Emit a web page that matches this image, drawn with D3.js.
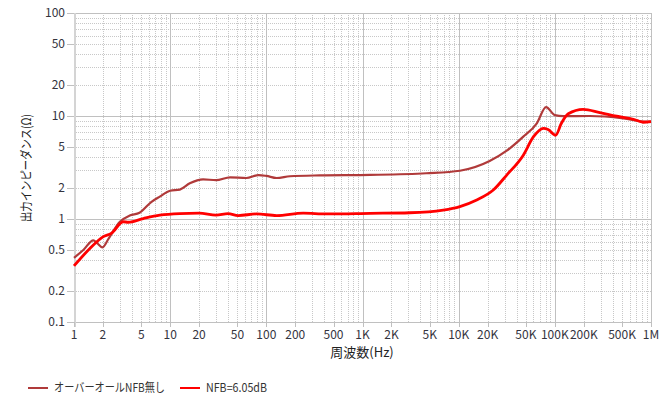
<!DOCTYPE html>
<html>
<head>
<meta charset="utf-8">
<script src="https://cdn.jsdelivr.net/npm/d3@7/dist/d3.min.js"></script>
<style>
  html, body { margin: 0; padding: 0; background: #fff; }
  svg { display: block; font-family: "Noto Sans CJK JP", "Noto Sans", sans-serif; }
</style>
</head>
<body>
<svg id="chart" width="668" height="398"></svg>
<script>
// Output impedance vs. frequency
const seriesNames = ["オーバーオールNFB無し", "NFB=6.05dB"];

const freqNoNfb = [1, 1.25, 1.59, 1.75, 1.97, 2.3, 3.0, 3.8, 4.8, 6.4, 7.8, 10, 12.6, 16, 22, 30, 42, 62, 83, 100, 128, 176, 360, 1200, 4600, 10300, 21000, 31600, 47000, 65000, 81000, 100000, 122000, 230000, 515000, 900000, 1000000];
const zNoNfb    = [0.42, 0.5, 0.62, 0.58, 0.53, 0.65, 0.94, 1.08, 1.15, 1.47, 1.65, 1.88, 1.93, 2.22, 2.43, 2.38, 2.54, 2.5, 2.67, 2.62, 2.5, 2.6, 2.65, 2.68, 2.78, 2.94, 3.65, 4.6, 6.3, 8.5, 12.2, 10.2, 9.95, 10, 9.5, 8.8, 8.8];

const freqNfb = [1, 1.47, 2.0, 2.46, 3.26, 3.67, 5.26, 7.8, 12.6, 20, 30, 40, 51, 79, 128, 242, 424, 1200, 3100, 6900, 10300, 15400, 22900, 31600, 47000, 60000, 76000, 85000, 102000, 117000, 138000, 197000, 294000, 440000, 655000, 832000, 1000000];
const zNfb    = [0.35, 0.52, 0.67, 0.73, 0.94, 0.93, 1.01, 1.09, 1.13, 1.14, 1.09, 1.13, 1.08, 1.12, 1.08, 1.14, 1.12, 1.135, 1.15, 1.22, 1.32, 1.53, 1.91, 2.67, 4.17, 6.3, 7.6, 7.4, 6.5, 8.5, 10.5, 11.6, 10.8, 9.95, 9.3, 8.7, 8.8];

const xTickValues = [1, 2, 5, 10, 20, 50, 100, 200, 500, 1e3, 2e3, 5e3, 1e4, 2e4, 5e4, 1e5, 2e5, 5e5, 1e6];
const xTickLabels = ["1", "2", "5", "10", "20", "50", "100", "200", "500", "1K", "2K", "5K", "10K", "20K", "50K", "100K", "200K", "500K", "1M"];
const yTickValues = [0.1, 0.2, 0.5, 1, 2, 5, 10, 20, 50, 100];
const yTickLabels = ["0.1", "0.2", "0.5", "1", "2", "5", "10", "20", "50", "100"];

const colors = ["#b03a3a", "#ff0000"];

const svg = d3.select("#chart");
const plotL = 74, plotR = 651, plotT = 13, plotB = 322;

const x = d3.scaleLog().domain([1, 1e6]).range([plotL, plotR]);
const y = d3.scaleLog().domain([0.1, 100]).range([plotB, plotT]);

// grid: minor lines dotted, decades solid
const minorX = [], minorY = [];
for (let d = 1; d < 1e6; d *= 10) for (let k = 2; k <= 9; k++) minorX.push(d * k);
for (let d = 0.1; d < 99; d *= 10) for (let k = 2; k <= 9; k++) minorY.push(d * k);
const majorX = [1e1, 1e2, 1e3, 1e4, 1e5, 1e6];
const majorY = [1, 10, 100];

const grid = svg.append("g");
grid.selectAll(".mx").data(minorX).join("line")
  .attr("x1", d => Math.round(x(d)) + 0.5).attr("x2", d => Math.round(x(d)) + 0.5)
  .attr("y1", plotT).attr("y2", plotB)
  .attr("stroke", "#c8c8c8").attr("stroke-dasharray", "1,1");
grid.selectAll(".my").data(minorY).join("line")
  .attr("y1", d => Math.round(y(d)) + 0.5).attr("y2", d => Math.round(y(d)) + 0.5)
  .attr("x1", plotL).attr("x2", plotR)
  .attr("stroke", "#c8c8c8").attr("stroke-dasharray", "1,1");
grid.selectAll(".Mx").data(majorX).join("line")
  .attr("x1", d => Math.round(x(d)) + 0.5).attr("x2", d => Math.round(x(d)) + 0.5)
  .attr("y1", plotT).attr("y2", plotB + 5)
  .attr("stroke", "#c0c0c0");
grid.selectAll(".My").data(majorY).join("line")
  .attr("y1", d => Math.round(y(d)) + 0.5).attr("y2", d => Math.round(y(d)) + 0.5)
  .attr("x1", plotL - 7).attr("x2", plotR)
  .attr("stroke", "#c0c0c0");

// axis lines
svg.append("line").attr("x1", plotL - 7).attr("x2", plotR).attr("y1", plotB + 0.5).attr("y2", plotB + 0.5).attr("stroke", "#c0c0c0");
svg.append("line").attr("x1", plotL + 1).attr("x2", plotL + 1).attr("y1", plotT).attr("y2", plotB + 5).attr("stroke", "#d4d4d4").attr("stroke-width", 2);
svg.selectAll(".yt").data(yTickValues).join("line")
  .attr("x1", plotL - 7).attr("x2", plotL)
  .attr("y1", d => Math.round(y(d)) + 0.5).attr("y2", d => Math.round(y(d)) + 0.5)
  .attr("stroke", "#c0c0c0");
svg.selectAll(".xt").data(xTickValues).join("line")
  .attr("x1", d => Math.round(x(d)) + 0.5).attr("x2", d => Math.round(x(d)) + 0.5)
  .attr("y1", plotB).attr("y2", plotB + 5)
  .attr("stroke", "#c0c0c0");

// tick labels
svg.append("g").selectAll("text").data(yTickValues).join("text")
  .attr("x", plotL - 9).attr("y", d => y(d)).attr("dy", "0.35em")
  .attr("text-anchor", "end").attr("font-size", 12).attr("fill", "#34343e")
  .text((d, i) => yTickLabels[i]);
svg.append("g").selectAll("text").data(xTickValues).join("text")
  .attr("x", d => x(d)).attr("y", 339)
  .attr("text-anchor", "middle").attr("font-size", 12).attr("fill", "#34343e")
  .text((d, i) => xTickLabels[i]);

// axis titles
svg.append("text").attr("x", 362).attr("y", 357).attr("text-anchor", "middle")
  .attr("font-size", 13).attr("fill", "#222").text("周波数(Hz)");
svg.append("text").attr("transform", "translate(31,168) rotate(-90)").attr("text-anchor", "middle")
  .attr("font-size", 12.5).attr("fill", "#222")
  .attr("textLength", 108).attr("lengthAdjust", "spacingAndGlyphs")
  .text("出力インピーダンス(Ω)");

// curves
const line = d3.line().x(d => x(d[0])).y(d => y(d[1])).curve(d3.curveMonotoneX);
const series = [
  { f: freqNoNfb, z: zNoNfb, color: colors[0], width: 2.2 },
  { f: freqNfb, z: zNfb, color: colors[1], width: 2.8 }
];
svg.append("g").selectAll("path").data(series).join("path")
  .attr("d", s => line(s.f.map((f, i) => [f, s.z[i]])))
  .attr("fill", "none").attr("stroke", s => s.color).attr("stroke-width", s => s.width)
  .attr("stroke-linejoin", "round");

// legend
const legendX = [28, 180];
const legendTextLen = [111, 61];
const lg = svg.append("g").selectAll("g").data(seriesNames).join("g")
  .attr("transform", (d, i) => `translate(${legendX[i]},388)`);
lg.append("line").attr("x1", 0).attr("x2", 20).attr("y1", 0).attr("y2", 0)
  .attr("stroke", (d, i) => colors[i]).attr("stroke-width", 2);
lg.append("text").attr("x", 26).attr("y", 0).attr("dy", "0.35em")
  .attr("font-size", 12).attr("fill", "#333")
  .attr("textLength", (d, i) => legendTextLen[i]).attr("lengthAdjust", "spacingAndGlyphs")
  .text(d => d);
</script>
</body>
</html>
